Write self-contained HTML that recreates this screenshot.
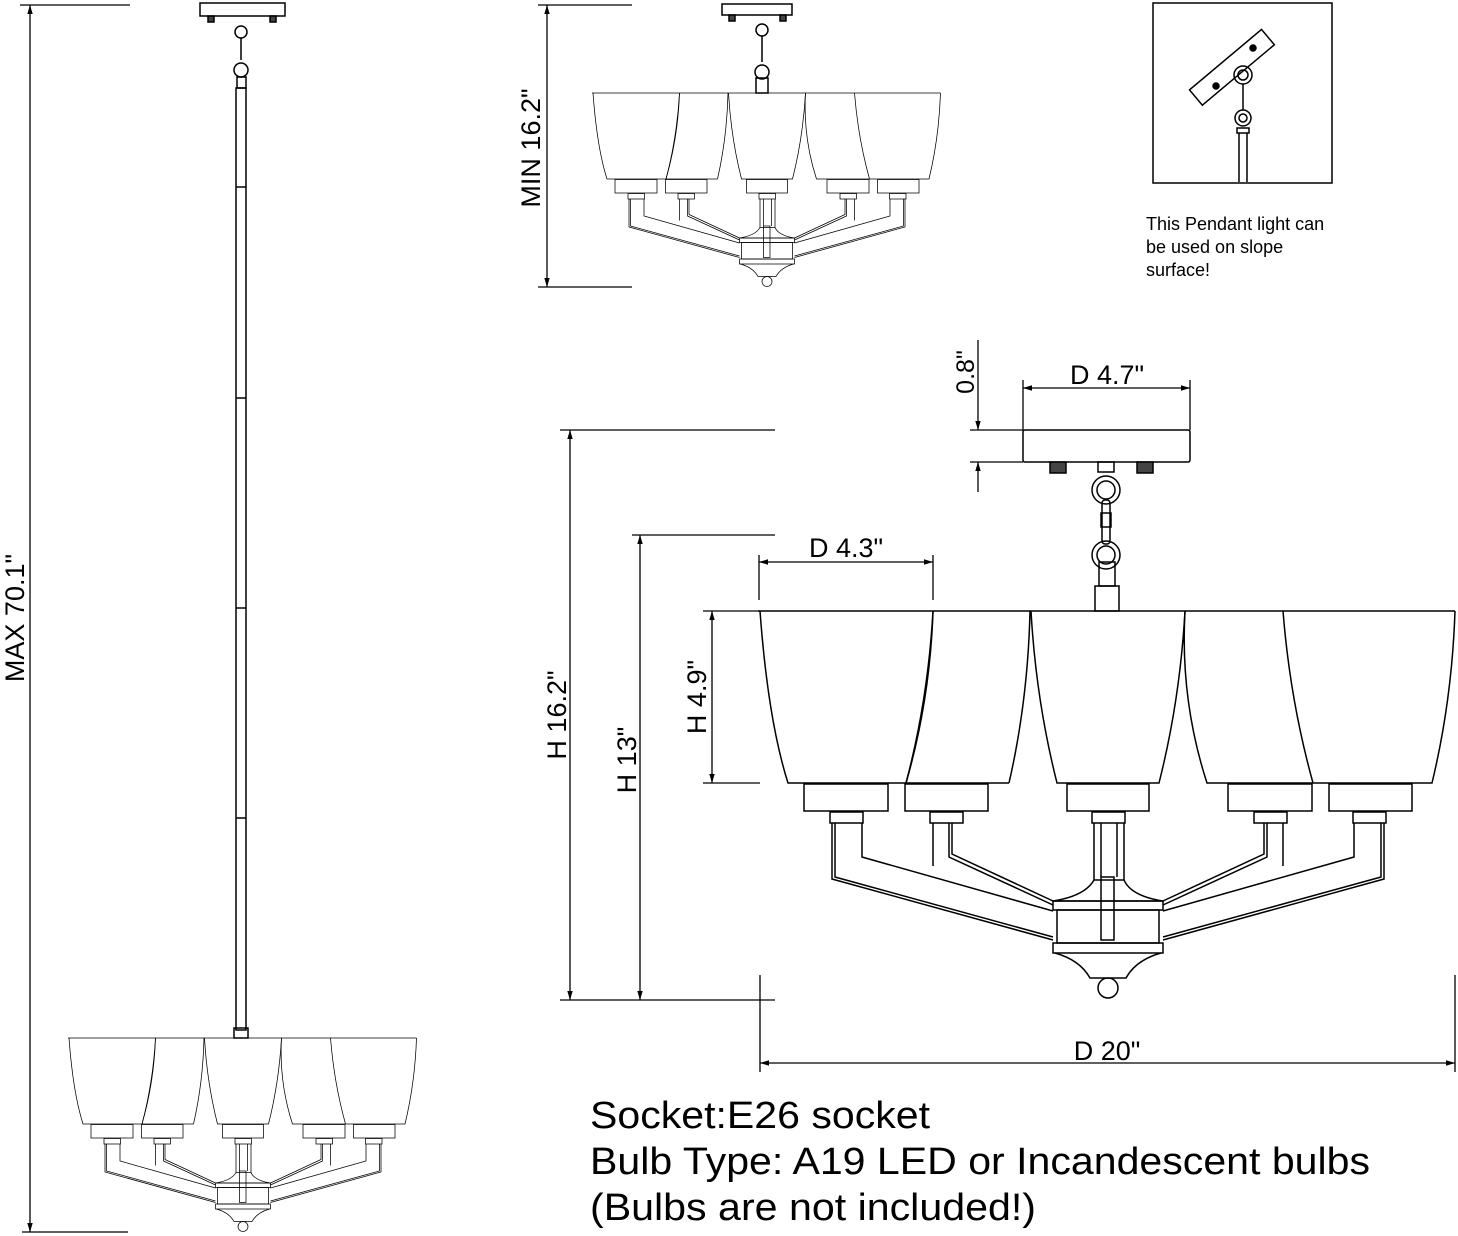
<!DOCTYPE html>
<html><head><meta charset="utf-8"><style>
html,body{margin:0;padding:0;background:#fff;width:1458px;height:1236px;overflow:hidden}
svg{display:block}
text{font-family:"Liberation Sans",Arial,sans-serif;fill:#000}
</style></head><body>
<svg width="1458" height="1236" viewBox="0 0 1458 1236" xmlns="http://www.w3.org/2000/svg">
<defs>
<marker id="a" viewBox="0 0 10 10" refX="10" refY="5" markerWidth="9" markerHeight="9" orient="auto-start-reverse" markerUnits="userSpaceOnUse"><path d="M0,2 L10,5 L0,8 z" fill="#000"/></marker>
<g id="body" fill="none" stroke="#000" stroke-width="1.5">
  <line x1="758" y1="611" x2="1455" y2="611"/>
  <path d="M760,611 Q768,720 788,783 L906,783 Q930,700 933,611"/>
  <path d="M933,611 Q928,700 906,783 M1009,783 Q1028,700 1030,611"/>
  <path d="M1031,611 Q1036,700 1057,783 L1159,783 Q1180,700 1185,611"/>
  <path d="M1185,611 Q1180,700 1207,783 L1313,783 M1283,611 Q1290,700 1313,783 L1432,783 Q1452,700 1455,611"/>
  <path d="M906,783 L1009,783"/>
  <rect x="804" y="784" width="84" height="27"/>
  <rect x="905" y="784" width="83" height="27"/>
  <rect x="1067" y="784" width="82" height="27"/>
  <rect x="1228" y="784" width="84" height="27"/>
  <rect x="1329" y="784" width="83" height="27"/>
  <rect x="830" y="812" width="33" height="11"/>
  <rect x="930" y="812" width="33" height="11"/>
  <rect x="1092" y="812" width="33" height="11"/>
  <rect x="1254" y="812" width="33" height="11"/>
  <rect x="1353" y="812" width="33" height="11"/>
  <path d="M832,823 L832,879 L1053,940 M835,823 L835,877 L1053,937 M862,823 L862,857 L1053,911"/>
  <path d="M933,823 L933,866 M949,823 L949,857 L1053,905 M952,823 L952,854 L1053,901"/>
  <path d="M1384,823 L1384,879 L1163,940 M1381,823 L1381,877 L1163,937 M1354,823 L1354,857 L1163,911"/>
  <path d="M1283,823 L1283,866 M1267,823 L1267,857 L1163,905 M1264,823 L1264,854 L1163,901"/>
  <path d="M1094,823 L1094,880 M1124,823 L1124,880 M1101,823 L1101,877 M1117,823 L1117,877"/>
  <path d="M1094,880 Q1085,896 1053,901 L1163,901 Q1131,896 1124,880 Z"/>
  <rect x="1053" y="901" width="110" height="9"/>
  <rect x="1057" y="910" width="102" height="33"/>
  <rect x="1053" y="943" width="110" height="10"/>
  <rect x="1101" y="877" width="13" height="63"/>
  <path d="M1055,953 Q1080,960 1090,978 L1126,978 Q1136,960 1161,953"/>
  <circle cx="1108" cy="988" r="10"/>
</g>
</defs>

<g fill="none" stroke="#000" stroke-width="1.5">
<rect x="1023" y="430" width="167" height="32" rx="2"/>
<rect x="1050" y="462" width="16" height="11" fill="#444"/>
<rect x="1137" y="462" width="16" height="11" fill="#444"/>
<rect x="1098" y="462" width="16" height="10"/>
<circle cx="1106" cy="490" r="14"/><circle cx="1106" cy="490" r="9"/>
<rect x="1102" y="500" width="8" height="44" rx="3"/>
<rect x="1101" y="513" width="10" height="14"/>
<circle cx="1106" cy="555" r="14"/><circle cx="1106" cy="555" r="9"/>
<rect x="1099" y="562" width="16" height="24"/>
<rect x="1095" y="586" width="24" height="25"/>
</g>
<use href="#body"/>

<g fill="none" stroke="#000" stroke-width="1.5">
<rect x="722" y="4" width="70" height="11"/>
<rect x="729" y="15" width="6" height="6" fill="#444"/>
<rect x="780" y="15" width="6" height="6" fill="#444"/>
<circle cx="762" cy="30" r="6"/><line x1="762" y1="36" x2="762" y2="62"/>
<circle cx="762" cy="72" r="7"/>
<rect x="756" y="78" width="12" height="15"/>
</g>
<g transform="translate(213,-212.5) scale(0.5)"><use href="#body" stroke-width="3"/></g>

<g fill="none" stroke="#000" stroke-width="1.5">
<rect x="200" y="3" width="85" height="13"/>
<rect x="208" y="16" width="6" height="6" fill="#444"/>
<rect x="270" y="16" width="6" height="6" fill="#444"/>
<circle cx="241" cy="32" r="6"/><line x1="241" y1="38" x2="241" y2="60"/>
<circle cx="241" cy="70" r="7"/>
<rect x="237" y="77" width="9" height="11"/>
<rect x="236" y="88" width="10" height="942"/>
<line x1="236" y1="187" x2="246" y2="187"/>
<line x1="236" y1="398" x2="246" y2="398"/>
<line x1="236" y1="608" x2="246" y2="608"/>
<line x1="236" y1="818" x2="246" y2="818"/>
<rect x="234" y="1028" width="14" height="10"/>
</g>
<g transform="translate(-311,732.5) scale(0.5)"><use href="#body" stroke-width="3"/></g>

<g fill="none" stroke="#000" stroke-width="1.5">
<rect x="1153" y="3" width="179" height="180"/>
<g transform="rotate(-40 1230 65)"><rect x="1183" y="58" width="94" height="20"/></g>
<circle cx="1216" cy="86" r="3" fill="#000"/><circle cx="1253" cy="48" r="3" fill="#000"/>
<circle cx="1243" cy="75" r="9"/><circle cx="1243" cy="75" r="5"/>
<line x1="1243" y1="84" x2="1243" y2="110"/>
<circle cx="1243" cy="118" r="8"/><circle cx="1243" cy="118" r="4"/>
<rect x="1237" y="128" width="12" height="5"/>
<line x1="1239" y1="133" x2="1239" y2="182"/><line x1="1247" y1="133" x2="1247" y2="182"/>
</g>
<text x="1146" y="230" font-size="18">This Pendant light can</text>
<text x="1146" y="253" font-size="18">be used on slope</text>
<text x="1146" y="276" font-size="18">surface!</text>

<g stroke="#000" stroke-width="1.3" fill="none">
<line x1="20" y1="5" x2="130" y2="5"/><line x1="22" y1="1232" x2="128" y2="1232"/>
<line x1="30" y1="5" x2="30" y2="1232" marker-start="url(#a)" marker-end="url(#a)"/>
<line x1="538" y1="5" x2="632" y2="5"/><line x1="538" y1="287" x2="632" y2="287"/>
<line x1="547" y1="5" x2="547" y2="287" marker-start="url(#a)" marker-end="url(#a)"/>
<line x1="970" y1="430" x2="1023" y2="430"/><line x1="970" y1="462" x2="1023" y2="462"/>
<line x1="978" y1="340" x2="978" y2="430" marker-end="url(#a)"/>
<line x1="978" y1="492" x2="978" y2="462" marker-end="url(#a)"/>
<line x1="1023" y1="380" x2="1023" y2="430"/><line x1="1190" y1="380" x2="1190" y2="430"/>
<line x1="1023" y1="388" x2="1190" y2="388" marker-start="url(#a)" marker-end="url(#a)"/>
<line x1="560" y1="430" x2="775" y2="430"/><line x1="560" y1="1000" x2="775" y2="1000"/>
<line x1="570" y1="430" x2="570" y2="1000" marker-start="url(#a)" marker-end="url(#a)"/>
<line x1="632" y1="535" x2="775" y2="535"/>
<line x1="640" y1="535" x2="640" y2="1000" marker-start="url(#a)" marker-end="url(#a)"/>
<line x1="703" y1="611" x2="760" y2="611"/><line x1="703" y1="783" x2="760" y2="783"/>
<line x1="712" y1="611" x2="712" y2="783" marker-start="url(#a)" marker-end="url(#a)"/>
<line x1="759" y1="555" x2="759" y2="600"/><line x1="933" y1="555" x2="933" y2="600"/>
<line x1="759" y1="562" x2="933" y2="562" marker-start="url(#a)" marker-end="url(#a)"/>
<line x1="760" y1="975" x2="760" y2="1072"/><line x1="1455" y1="975" x2="1455" y2="1072"/>
<line x1="760" y1="1063" x2="1455" y2="1063" marker-start="url(#a)" marker-end="url(#a)"/>
</g>

<text font-size="27" text-anchor="middle" transform="translate(24,618) rotate(-90)">MAX 70.1"</text>
<text font-size="27" text-anchor="middle" transform="translate(540,148) rotate(-90)">MIN 16.2"</text>
<text font-size="25" text-anchor="middle" transform="translate(974,372) rotate(-90)">0.8"</text>
<text font-size="27" x="1107" y="384" text-anchor="middle">D 4.7"</text>
<text font-size="27" text-anchor="middle" transform="translate(566,715) rotate(-90)">H 16.2"</text>
<text font-size="27" text-anchor="middle" transform="translate(636,760) rotate(-90)">H 13"</text>
<text font-size="27" text-anchor="middle" transform="translate(706,697) rotate(-90)">H 4.9"</text>
<text font-size="27" x="846" y="557" text-anchor="middle">D 4.3"</text>
<text font-size="27" x="1107" y="1060" text-anchor="middle">D 20"</text>

<text font-size="38" x="590" y="1128" textLength="340" lengthAdjust="spacingAndGlyphs">Socket:E26 socket</text>
<text font-size="38" x="590" y="1174" textLength="780" lengthAdjust="spacingAndGlyphs">Bulb Type: A19 LED or Incandescent bulbs</text>
<text font-size="38" x="590" y="1220" textLength="446" lengthAdjust="spacingAndGlyphs">(Bulbs are not included!)</text>
</svg>
</body></html>
